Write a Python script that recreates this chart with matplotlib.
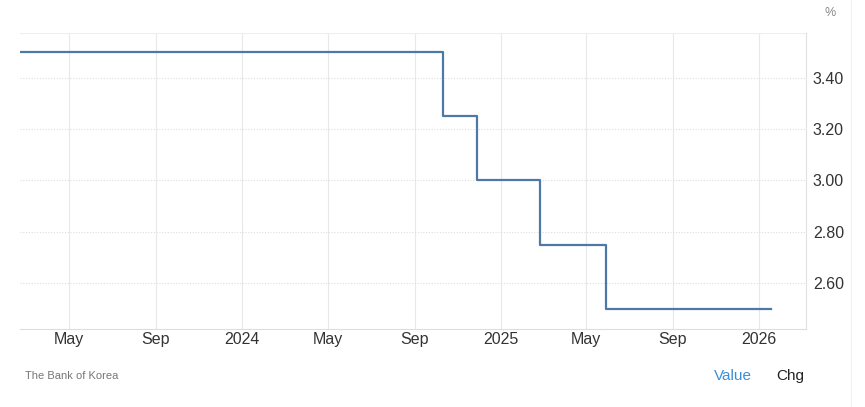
import matplotlib
matplotlib.use("Agg")
import matplotlib.pyplot as plt
from datetime import datetime

plt.rcParams['font.family'] = ['Liberation Sans', 'DejaVu Sans']

# Bank of Korea base rate (step changes)
dates = ["2023-02-21", "2024-10-11", "2024-11-28", "2025-02-25", "2025-05-29", "2026-01-18"]
rates = [3.50, 3.25, 3.00, 2.75, 2.50, 2.50]

tick_dates = ["2023-05-01", "2023-09-01", "2024-01-01", "2024-05-01", "2024-09-01",
              "2025-01-01", "2025-05-01", "2025-09-01", "2026-01-01"]
tick_labels = ["May", "Sep", "2024", "May", "Sep", "2025", "May", "Sep", "2026"]
y_ticks = [2.60, 2.80, 3.00, 3.20, 3.40]

x = [datetime.strptime(d, "%Y-%m-%d") for d in dates]
xt = [datetime.strptime(d, "%Y-%m-%d") for d in tick_dates]

fig = plt.figure(figsize=(8.65, 4.07), dpi=100)
ax = fig.add_axes([20 / 865, 78 / 407, 786 / 865, 296 / 407])

ax.plot(x, rates, drawstyle="steps-post", color="#4d78a8", linewidth=1.6, zorder=3)

ax.set_xlim(datetime(2023, 2, 21), datetime(2026, 3, 8))
ax.set_ylim(2.422, 3.574)

ax.set_xticks(xt)
ax.set_xticklabels(tick_labels)
ax.set_yticks(y_ticks)
ax.set_yticklabels([f"{v:.2f}" for v in y_ticks])

ax.yaxis.tick_right()
ax.tick_params(axis="both", length=0, labelsize=11.5, labelcolor="#333333")
ax.tick_params(axis="x", pad=2)
ax.tick_params(axis="y", pad=5)

# grid
ax.grid(axis="x", color="#e8e8e8", linewidth=0.8, linestyle="-")
ax.grid(axis="y", color="#dddddd", linewidth=0.8, linestyle=(0, (1, 1.5)))
ax.axhline(3.574, color="#eeeeee", linewidth=0.8)

for side in ["top", "left"]:
    ax.spines[side].set_visible(False)
ax.spines["right"].set_color("#e0e0e0")
ax.spines["bottom"].set_color("#dddddd")
ax.spines["right"].set_linewidth(0.8)
ax.spines["bottom"].set_linewidth(0.8)

fig.text(830 / 865, 1 - 13 / 407, "%", fontsize=9, color="#888888", ha="center", va="center")
fig.text(25 / 865, 1 - 376 / 407, "The Bank of Korea", fontsize=8, color="#777777",
         ha="left", va="center")
fig.text(733 / 865, 1 - 376 / 407, "Value", fontsize=11, color="#3a8fd8",
         ha="center", va="center")
fig.text(790 / 865, 1 - 376 / 407, "Chg", fontsize=11, color="#222222",
         ha="center", va="center")

# faint frame edge on the right
fig.add_artist(plt.Line2D([851 / 865, 851 / 865], [0, 1], color="#f0f0f0", linewidth=0.8))

fig.savefig("out.png", dpi=100)
